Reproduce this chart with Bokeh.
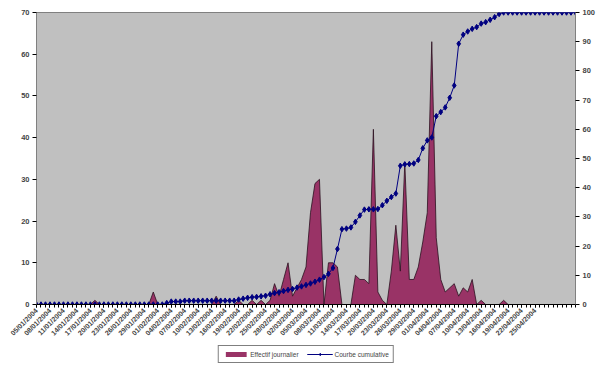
import math
import pandas as pd
from bokeh.plotting import figure
from bokeh.layouts import column
from bokeh.models import (Range1d, LinearAxis, FixedTicker, Legend, LegendItem,
                          ColumnDataSource)
from bokeh.embed import file_html
from bokeh.resources import INLINE

# Daily counts (left axis) and cumulative percentage (right axis), one value per day
effectif_journalier = [
    0, 0, 0, 0, 0, 0, 0, 0, 0, 0, 0, 0, 0, 1, 0, 0, 0, 0, 0, 0,
    0, 0, 0, 0, 0, 0, 3, 0, 0, 0, 0, 0, 0, 0, 0, 0, 0, 0, 0, 0,
    2, 0, 0, 0, 0, 1, 0, 0, 1, 0, 1, 0, 1, 5, 2, 6, 10, 2, 4, 6,
    9, 22, 29, 30, 0, 10, 10, 9, 0, 0, 0, 7, 6, 6, 5, 42, 3, 1, 0, 8,
    19, 8, 34, 6, 6, 9, 15, 22, 63, 16, 6, 3, 4, 5, 2, 4, 3, 6, 0, 1,
    0, 0, 0, 0, 1, 0, 0, 0, 0, 0, 0, 0, 0, 0, 0, 0, 0, 0, 0, 0,
    0,
]

courbe_cumulative = [
    0, 0, 0, 0, 0, 0, 0, 0, 0, 0, 0, 0, 0, 0, 0, 0, 0, 0, 0, 0,
    0, 0, 0, 0, 0, 0, 0, 0, 0, 0.5, 1.0, 1.0, 1.0, 1.3, 1.3, 1.3, 1.3, 1.3, 1.3, 1.3,
    1.3, 1.3, 1.3, 1.3, 1.3, 1.7, 2.0, 2.3, 2.5, 2.6, 2.8, 3.0, 3.5, 3.9, 4.2, 4.6, 5.0, 5.3, 5.8, 6.2,
    6.7, 7.2, 7.8, 8.5, 9.4, 10.5, 12.5, 19.0, 25.8, 26.0, 26.4, 28.3, 30.5, 32.5, 32.6, 32.6, 32.7, 34.0, 35.5, 36.8,
    38.0, 47.5, 48.0, 48.1, 48.3, 49.5, 53.5, 56.2, 57.2, 64.5, 65.9, 67.5, 70.8, 75.0, 89.3, 92.4, 93.5, 94.4, 95.0, 96.2,
    96.7, 97.5, 98.4, 99.5, 100, 100, 100, 100, 100, 100, 100, 100, 100, 100, 100, 100, 100, 100, 100, 100,
    100,
]

# Category labels: one date per day, every third one shown
jours = pd.date_range("2004-01-05", periods=len(effectif_journalier), freq="D")
etiquettes = [d.strftime("%d/%m/%Y") for d in jours]
pas_etiquette = 3
dernier_label = 111

y_ticks_gauche = [0, 10, 20, 30, 40, 50, 60, 70]
y_ticks_droite = [0, 10, 20, 30, 40, 50, 60, 70, 80, 90, 100]

AREA_COLOR = "#993366"
AREA_EDGE = "#2b1020"
CUM_COLOR = "#000080"
font = "Liberation Sans"

n = len(effectif_journalier)
src = ColumnDataSource(dict(
    x=list(range(n)),
    eff=effectif_journalier,
    cum=courbe_cumulative,
    zero=[0] * n,
))

p = figure(frame_width=539, frame_height=292, output_backend="svg",
           toolbar_location=None,
           x_range=Range1d(0, n - 1), y_range=Range1d(0, 70),
           min_border_left=36, min_border_right=31, min_border_top=12,
           min_border_bottom=0)
p.extra_y_ranges = {"pct": Range1d(0, 100)}

p.background_fill_color = "#C0C0C0"
p.border_fill_color = "white"
p.outline_line_color = "#808080"
p.xgrid.visible = False
p.ygrid.visible = False

# Daily area with dark outline
p.varea(x="x", y1="zero", y2="eff", source=src, fill_color=AREA_COLOR)
p.line(x="x", y="eff", source=src, line_color=AREA_EDGE, line_width=0.8)

# Cumulative curve with diamond markers
p.line(x="x", y="cum", source=src, y_range_name="pct",
       line_color=CUM_COLOR, line_width=1)
p.scatter(x="x", y="cum", source=src, y_range_name="pct",
          marker="diamond", size=5.5, fill_color=CUM_COLOR, line_color=CUM_COLOR)

# Left and right value axes
ax_l = p.yaxis[0]
ax_l.ticker = FixedTicker(ticks=y_ticks_gauche)
ax_r = LinearAxis(y_range_name="pct", ticker=FixedTicker(ticks=y_ticks_droite))
p.add_layout(ax_r, "right")
for ax in (ax_l, ax_r):
    ax.axis_line_color = "#808080"
    ax.major_tick_line_color = "black"
    ax.major_tick_out = 4
    ax.major_tick_in = 0
    ax.minor_tick_line_color = None
    ax.major_label_text_font = font
    ax.major_label_text_font_style = "bold"
    ax.major_label_text_font_size = "7.5px"
    ax.major_label_standoff = 3

# Bottom category axis
ax_b = p.xaxis[0]
major = list(range(0, dernier_label + 1, pas_etiquette))
ax_b.ticker = FixedTicker(ticks=major, minor_ticks=list(range(n)))
ax_b.major_label_overrides = {i: etiquettes[i] for i in major}
ax_b.major_label_orientation = math.pi / 4
ax_b.major_label_text_font = font
ax_b.major_label_text_font_style = "bold"
ax_b.major_label_text_font_size = "7px"
ax_b.major_label_standoff = 2
ax_b.axis_line_color = "black"
ax_b.major_tick_line_color = "black"
ax_b.major_tick_out = 3
ax_b.major_tick_in = 0
ax_b.minor_tick_line_color = "black"
ax_b.minor_tick_out = 3
ax_b.minor_tick_in = 0

# Legend strip under the chart: same series and styles, ranges kept off the data
leg_fig = figure(width=606, height=24, output_backend="svg", toolbar_location=None,
                 x_axis_type=None, y_axis_type=None, min_border=0,
                 x_range=Range1d(-20, -10), y_range=Range1d(-20, -10))
leg_fig.outline_line_color = None
leg_fig.xgrid.visible = False
leg_fig.ygrid.visible = False
sw_area = leg_fig.varea(x="x", y1="zero", y2="eff", source=src,
                        fill_color=AREA_COLOR)
sw_line = leg_fig.line(x="x", y="cum", source=src, line_color=CUM_COLOR,
                       line_width=1)
sw_pts = leg_fig.scatter(x="x", y="cum", source=src, marker="diamond", size=5,
                         fill_color=CUM_COLOR, line_color=CUM_COLOR)

legend = Legend(items=[
    LegendItem(label="Effectif journalier", renderers=[sw_area]),
    LegendItem(label="Courbe cumulative", renderers=[sw_line, sw_pts]),
], orientation="horizontal", location="center")
legend.label_text_font = font
legend.label_text_font_size = "6.5px"
legend.glyph_width = 26
legend.glyph_height = 6
legend.label_standoff = 2
legend.label_height = 8
legend.spacing = 8
legend.padding = 4
legend.margin = 0
legend.border_line_color = "black"
legend.border_line_width = 1
legend.background_fill_color = "white"
leg_fig.add_layout(legend, "center")

layout = column(p, leg_fig, spacing=0)
open("out.html", "w").write(file_html(layout, INLINE))
